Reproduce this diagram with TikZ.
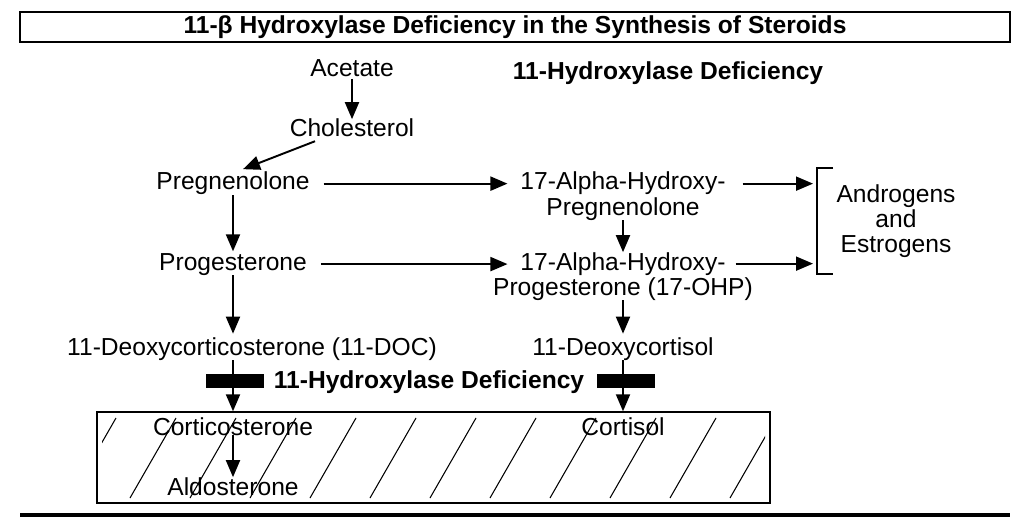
\documentclass[tikz,border=0pt]{standalone}
\usepackage{fontspec}
\setmainfont{Liberation Sans}
\usetikzlibrary{arrows.meta,calc}
\tikzset{
  lbl/.style={anchor=base, inner sep=0pt, outer sep=0pt, font=\fontsize{14}{16}\selectfont},
  bld/.style={lbl, font=\fontsize{14}{16}\selectfont\bfseries},
  arr/.style={-{Triangle[length=0.34cm,width=0.28cm]}, line width=1.1pt},
  blockbar/.style={fill=black, inner sep=0pt, minimum width=1.16cm, minimum height=0.29cm}
}
\begin{document}
\begin{tikzpicture}[x=0.02cm, y=-0.02cm]
  \useasboundingbox (0,0) rectangle (1027,530);
  \node[draw, line width=1.5pt, inner sep=0pt, minimum width=19.8cm, minimum height=0.6cm,
    font=\fontsize{14}{16}\selectfont\bfseries] (title) at (515,27)
    {11-β Hydroxylase Deficiency in the Synthesis of Steroids};

  \node[draw, line width=0.8pt, inner sep=0pt, minimum width=13.46cm, minimum height=1.82cm] (hbox) at (433.5,457.5) {};
  \begin{scope}
    \clip (102,417) rectangle (765,498);
    \foreach \x in {70,130,...,780} \draw[line width=0.6pt] (\x,498) -- ++(46,-80);
  \end{scope}

  \node[lbl] (acet) at (352,77) {Acetate};
  \node[bld] (hdtop) at (668,80) {11-Hydroxylase Deficiency};
  \node[lbl] (chol) at (352,137) {Cholesterol};
  \node[lbl] (preg) at (233,190) {Pregnenolone};
  \node[lbl] (ahp1) at (623,190) {17-Alpha-Hydroxy-};
  \node[lbl] (ahp2) at (623,215) {Pregnenolone};
  \node[lbl] (prog) at (233,270) {Progesterone};
  \node[lbl] (ahq1) at (623,270) {17-Alpha-Hydroxy-};
  \node[lbl] (ahq2) at (623,295) {Progesterone (17-OHP)};
  \node[lbl] (andr) at (896,203) {Androgens};
  \node[lbl] (andw) at (896,228) {and};
  \node[lbl] (estr) at (896,253) {Estrogens};
  \node[lbl] (doc) at (252,355) {11-Deoxycorticosterone (11-DOC)};
  \node[lbl] (dcort) at (623,355) {11-Deoxycortisol};
  \node[bld] (hdmid) at (429,388) {11-Hydroxylase Deficiency};
  \node[lbl] (cort) at (233,435) {Corticosterone};
  \node[lbl] (aldo) at (233,495) {Aldosterone};
  \node[lbl] (cortl) at (623,435) {Cortisol};

  \coordinate (brk) at (817,168);
  \draw[line width=1.1pt] (833,168) -- (brk) -- (817,274) -- (833,274);

  \draw[arr, shorten <=1pt] (acet.south) -- (chol.north);
  \draw[arr] ($(chol.south)+(-37,4)$) -- ($(preg.north)+(10,-3)$);
  \draw[arr, shorten <=0.28cm, shorten >=0.26cm] (preg.east) -- (preg.east -| ahp1.west);
  \draw[arr, shorten <=0.28cm, shorten >=0.26cm] (prog.east) -- (prog.east -| ahq1.west);
  \draw[arr, shorten <=0.34cm, shorten >=0.08cm] (ahp1.east) -- (ahp1.east -| brk);
  \draw[arr, shorten <=0.2cm, shorten >=0.08cm] (ahq1.east) -- (ahq1.east -| brk);
  \draw[arr, shorten >=1pt] (preg.south) -- (prog.north);
  \draw[arr, shorten >=2pt] (prog.south) -- (prog.south |- doc.north);
  \draw[arr] (ahp2.south) -- (ahq1.north);
  \draw[arr, shorten >=2pt] (ahq2.south) -- (dcort.north);

  \node[blockbar] (bar1) at (235,381) {};
  \node[blockbar] (bar2) at (626,381) {};
  \draw[arr] (prog.south |- doc.south) -- (prog.south |- hbox.north);
  \draw[arr] (dcort.south) -- (dcort.south |- hbox.north);
  \draw[arr] (cort.south) -- (aldo.north);

  \draw[line width=1.8pt] (20,515) -- (1010,515);
\end{tikzpicture}
\end{document}
